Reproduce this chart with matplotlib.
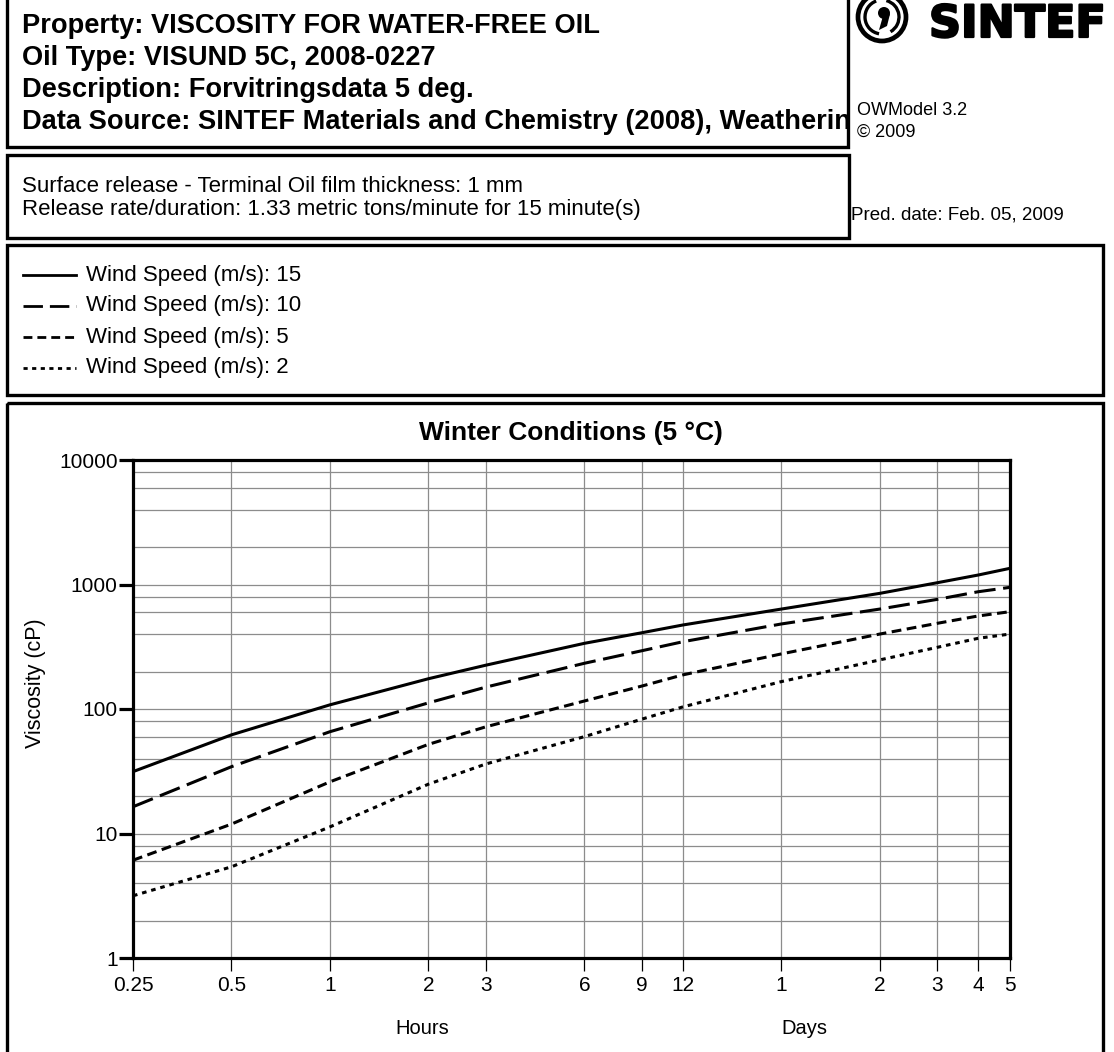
"""Viscosity of water-free oil over time, laid out as an OWModel report sheet."""

import matplotlib.pyplot as plt
import matplotlib.patheffects as pe
from matplotlib.lines import Line2D
from matplotlib.patches import Arc, Circle, Polygon, Rectangle
from matplotlib.ticker import FixedLocator, NullLocator

W_PX, H_PX, DPI = 1114, 1052, 100

plt.rcParams["font.family"] = ["Liberation Sans", "DejaVu Sans"]

# Time axis in hours; labels switch from hours to days after 12 h
TIME_HOURS = [0.25, 0.5, 1, 2, 3, 6, 9, 12, 24, 48, 72, 96, 120]
TIME_LABELS = ["0.25", "0.5", "1", "2", "3", "6", "9", "12", "1", "2", "3", "4", "5"]

# Viscosity (cP) per wind speed at the times above
WIND_SPEEDS = [15, 10, 5, 2]
VISC_WIND_15 = [31.4, 62, 108, 175, 225, 337, 410, 473, 635, 849, 1034, 1192, 1349]
VISC_WIND_10 = [16.4, 34.4, 65.7, 112, 150, 233, 294, 347, 482, 635, 760, 875, 949]
VISC_WIND_5 = [6.1, 11.9, 26, 52, 72, 116, 153, 188, 277, 400, 488, 559, 605]
VISC_WIND_2 = [3.16, 5.4, 11.3, 24.9, 36.2, 60, 83, 104, 166, 248, 313, 370, 400]

# last header line runs past the frame and is cut there
HEADER_LINES = [
    "Property: VISCOSITY FOR WATER-FREE OIL",
    "Oil Type: VISUND 5C, 2008-0227",
    "Description: Forvitringsdata 5 deg.",
    "Data Source: SINTEF Materials and Chemistry (2008), Weatherin",
]
RELEASE_LINES = [
    "Surface release - Terminal Oil film thickness: 1 mm",
    "Release rate/duration: 1.33 metric tons/minute for 15 minute(s)",
]

# dash pattern for each wind speed (in line widths), None = solid
DASHES = [None, (7, 2.5), (3.2, 1.8), (1.5, 1.6)]


def _box(ax, x0, y0, x1, y1):
    """Draw a framed box in sheet pixel coordinates."""
    rect = Rectangle(
        (x0, y0), x1 - x0, y1 - y0, fill=False, lw=2.4, ec="black", clip_on=False
    )
    ax.add_patch(rect)
    return rect


def _draw_logo(ax):
    """SINTEF ring logo and name in the top right corner."""
    cx, cy = 882, 17
    ax.add_patch(Circle((cx, cy), 24, fill=False, lw=3.4, ec="black", clip_on=False))
    ax.add_patch(Arc((cx, cy), 34, 34, theta1=100, theta2=250, lw=2.4, clip_on=False))
    ax.add_patch(Arc((cx, cy), 34, 34, theta1=285, theta2=60, lw=2.4, clip_on=False))
    ax.add_patch(Circle((cx + 2, cy - 4), 6, fc="black", ec="none", clip_on=False))
    ax.add_patch(
        Polygon(
            [(cx + 8, cy - 3), (cx + 5, cy + 9), (cx - 3, cy + 13), (cx + 1, cy - 1)],
            closed=True, fc="black", ec="none", clip_on=False,
        )
    )
    ax.text(
        929, 37, "SINTEF", fontsize=32, fontweight="heavy",
        family="DejaVu Sans", va="baseline", ha="left",
        path_effects=[pe.withStroke(linewidth=1.6, foreground="black")],
    )


fig = plt.figure(figsize=(W_PX / DPI, H_PX / DPI), dpi=DPI)
sheet = fig.add_axes([0, 0, 1, 1])
sheet.set_xlim(0, W_PX)
sheet.set_ylim(H_PX, 0)
sheet.axis("off")

# Header block, long lines are cut at the frame
header_box = _box(sheet, 7, -5, 848, 147)
for i, line in enumerate(HEADER_LINES):
    t = sheet.text(
        22, 33 + i * 32, line, fontsize=19.6, fontweight="bold", va="baseline",
        clip_on=True,
    )
    t.set_clip_path(header_box)

release_box = _box(sheet, 7, 155, 849, 238)
for i, line in enumerate(RELEASE_LINES):
    sheet.text(22, 192 + i * 23, line, fontsize=16, va="baseline")

sheet.text(857, 115, "OWModel 3.2", fontsize=13, va="baseline")
sheet.text(857, 137, "\u00a9 2009", fontsize=13, va="baseline")
sheet.text(851, 219, "Pred. date: Feb. 05, 2009", fontsize=13.5, va="baseline")
_draw_logo(sheet)

# Legend block
_box(sheet, 7, 245, 1103, 395)
for i, (speed, dash) in enumerate(zip(WIND_SPEEDS, DASHES)):
    y = 275 + i * 31
    ln = Line2D([23, 76], [y, y], color="black", lw=2.0)
    if dash is not None:
        ln.set_dashes(dash)
    sheet.add_line(ln)
    sheet.text(86, y, f"Wind Speed (m/s): {speed}", fontsize=16, va="center")

# Chart block
_box(sheet, 7, 403, 1103, 1070)
sheet.text(
    571, 433, "Winter Conditions (5 \u00b0C)", fontsize=19, fontweight="bold",
    ha="center", va="center",
)
sheet.text(36, 683, "Viscosity (cP)", fontsize=15.5, rotation=90, ha="center", va="center")
sheet.text(422, 1028, "Hours", fontsize=14.5, ha="center", va="center")
sheet.text(804, 1028, "Days", fontsize=14.5, ha="center", va="center")

left, right, top, bottom = 133, 1010, 460, 958
ax = fig.add_axes(
    [left / W_PX, 1 - bottom / H_PX, (right - left) / W_PX, (bottom - top) / H_PX]
)
ax.set_xscale("log")
ax.set_yscale("log")

series = [VISC_WIND_15, VISC_WIND_10, VISC_WIND_5, VISC_WIND_2]
for values, dash in zip(series, DASHES):
    (ln,) = ax.plot(TIME_HOURS, values, color="black", lw=2.2, zorder=3)
    if dash is not None:
        ln.set_dashes(dash)

ax.set_xlim(0.25, 120)
ax.set_ylim(1, 10000)

ax.xaxis.set_major_locator(FixedLocator(TIME_HOURS))
ax.xaxis.set_minor_locator(NullLocator())
ax.set_xticklabels(TIME_LABELS)

decades = [1, 10, 100, 1000, 10000]
ax.yaxis.set_major_locator(FixedLocator(decades))
ax.set_yticklabels([str(d) for d in decades])
minor = [m * d for d in decades[:-1] for m in (2, 4, 6, 8)]
ax.yaxis.set_minor_locator(FixedLocator(minor))

ax.grid(axis="x", which="major", color="#8c8c8c", lw=0.9)
ax.grid(axis="y", which="both", color="#8c8c8c", lw=0.9)
ax.set_axisbelow(True)

for spine in ax.spines.values():
    spine.set_linewidth(2.3)
ax.tick_params(axis="y", which="major", width=2.3, length=10, pad=1, labelsize=15)
ax.tick_params(axis="y", which="minor", length=0)
ax.tick_params(axis="x", which="major", width=0.9, length=9, pad=4, labelsize=15)

fig.savefig("out.png", dpi=DPI)
